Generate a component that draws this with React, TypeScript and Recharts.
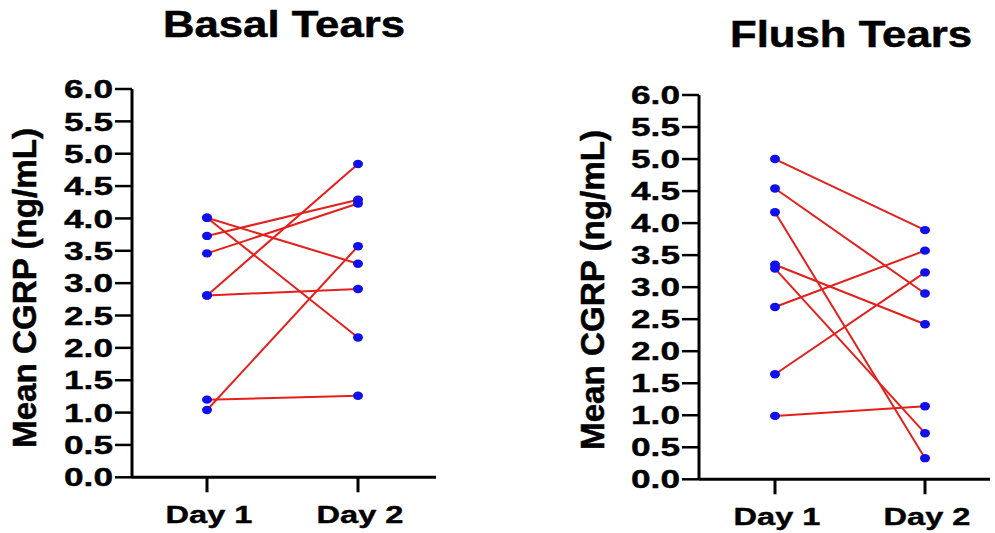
import React from 'react';
import { LineChart, Line, XAxis, YAxis } from 'recharts';

// Paired measurements, one entry per subject (Day 1 -> Day 2)
const days = ['Day 1', 'Day 2'];
const yTicks = [0, 0.5, 1, 1.5, 2, 2.5, 3, 3.5, 4, 4.5, 5, 5.5, 6];

const basalDay1 = [4.01, 4.01, 3.73, 3.46, 2.81, 2.81, 1.2, 1.04];
const basalDay2 = [3.3, 2.16, 4.29, 4.23, 4.84, 2.91, 1.26, 3.57];

const flushDay1 = [5.0, 4.54, 4.17, 3.35, 3.29, 2.69, 1.64, 0.99];
const flushDay2 = [3.89, 2.9, 0.33, 2.42, 0.72, 3.57, 3.23, 1.14];

const FONT = '"Liberation Sans", Arial, Helvetica, sans-serif';
const RED = '#e3201c';
const BLUE = '#1010ea';

const toRows = (d1: number[], d2: number[]) =>
  days.map((day, j) => {
    const row: Record<string, any> = { day };
    (j === 0 ? d1 : d2).forEach((v, i) => {
      row[`s${i}`] = v;
    });
    return row;
  });

const ValueTick = (props: any) => {
  const { x, y, payload } = props;
  return (
    <text
      x={x}
      y={y}
      dy="0.36em"
      textAnchor="end"
      fontFamily={FONT}
      fontWeight={700}
      fontSize={25.5}
      fill="#000"
      stroke="#000"
      strokeWidth={0.4}
      textLength={49}
      lengthAdjust="spacingAndGlyphs"
    >
      {Number(payload.value).toFixed(1)}
    </text>
  );
};

const DayTick = (props: any) => {
  const { x, y, payload } = props;
  return (
    <text
      x={x + 2}
      y={y + 31}
      textAnchor="middle"
      fontFamily={FONT}
      fontWeight={700}
      fontSize={24.5}
      fill="#000"
      stroke="#000"
      strokeWidth={0.4}
      textLength={87}
      lengthAdjust="spacingAndGlyphs"
    >
      {payload.value}
    </text>
  );
};

const Dot = (props: any) => {
  const { cx, cy, dataKey, index } = props;
  if (cx == null || cy == null) return <g key={`${dataKey}-${index}`} />;
  return <ellipse key={`${dataKey}-${index}`} cx={cx} cy={cy} rx={5} ry={4.2} fill={BLUE} />;
};

type PanelProps = {
  d1: number[];
  d2: number[];
  left: number;
  width: number;
  yWidth: number;
  top: number;
  axisY: number;
  right: number;
  padLeft: number;
  padRight: number;
};

const Panel = ({ d1, d2, left, width, yWidth, top, axisY, right, padLeft, padRight }: PanelProps) => {
  const rows = toRows(d1, d2);
  const keys = d1.map((_, i) => `s${i}`);
  return (
    <div style={{ position: 'absolute', left, top: 0 }}>
      <LineChart width={width} height={533} data={rows} margin={{ top, right, bottom: 0, left: 0 }}>
        <XAxis
          dataKey="day"
          height={533 - axisY}
          padding={{ left: padLeft, right: padRight }}
          interval={0}
          axisLine={{ stroke: '#000', strokeWidth: 3 }}
          tickLine={{ stroke: '#000', strokeWidth: 3 }}
          tickSize={15}
          tickMargin={0}
          tick={<DayTick />}
        />
        <YAxis
          type="number"
          width={yWidth}
          domain={[0, 6]}
          ticks={yTicks}
          interval={0}
          axisLine={{ stroke: '#000', strokeWidth: 3 }}
          tickLine={{ stroke: '#000', strokeWidth: 2.5 }}
          tickSize={17}
          tickMargin={2}
          tick={<ValueTick />}
        />
        {keys.map(k => (
          <Line
            key={`line-${k}`}
            dataKey={k}
            type="linear"
            stroke={RED}
            strokeWidth={2}
            dot={false}
            activeDot={false}
            isAnimationActive={false}
          />
        ))}
        {keys.map(k => (
          <Line
            key={`dot-${k}`}
            dataKey={k}
            type="linear"
            stroke="none"
            dot={<Dot />}
            activeDot={false}
            isAnimationActive={false}
          />
        ))}
      </LineChart>
    </div>
  );
};

const App: React.FC = () => (
  <div style={{ position: 'absolute', left: 0, top: 0, width: 995, height: 533, background: '#fff' }}>
    <Panel d1={basalDay1} d2={basalDay2} left={0} width={470} yWidth={132} top={89} axisY={477.3} right={34} padLeft={75} padRight={78} />
    <Panel d1={flushDay1} d2={flushDay2} left={500} width={495} yWidth={199} top={95} axisY={479.3} right={5} padLeft={76} padRight={65} />

    {/* panel titles and y-axis captions */}
    <svg width={995} height={533} style={{ position: 'absolute', left: 0, top: 0, pointerEvents: 'none' }}>
      <g fontFamily={FONT} fontWeight={700} fill="#000" stroke="#000" strokeWidth={0.5}>
        <text x={284} y={37} textAnchor="middle" fontSize={36} textLength={242} lengthAdjust="spacingAndGlyphs">
          Basal Tears
        </text>
        <text x={851} y={47} textAnchor="middle" fontSize={36} textLength={242} lengthAdjust="spacingAndGlyphs">
          Flush Tears
        </text>
        <text
          transform="translate(36 288) rotate(-90)"
          textAnchor="middle"
          fontSize={33}
          textLength={320}
          lengthAdjust="spacingAndGlyphs"
        >
          Mean CGRP (ng/mL)
        </text>
        <text
          transform="translate(604 290) rotate(-90)"
          textAnchor="middle"
          fontSize={33}
          textLength={320}
          lengthAdjust="spacingAndGlyphs"
        >
          Mean CGRP (ng/mL)
        </text>
      </g>
    </svg>
  </div>
);

export default App;
